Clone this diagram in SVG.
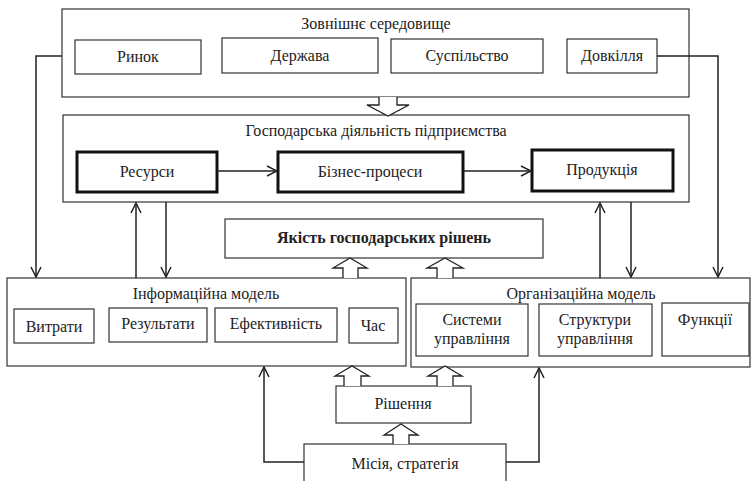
<svg xmlns="http://www.w3.org/2000/svg" width="752" height="481" viewBox="0 0 752 481" font-family="Liberation Serif, Times New Roman, serif">
<defs>
<style>
.box{fill:#fff;stroke:#333;stroke-width:1.2}
.thick{fill:#fff;stroke:#111;stroke-width:3}
.t{font-family:'Liberation Serif','Times New Roman',serif;font-size:16px;fill:#222;text-anchor:middle}
.b{font-weight:bold}
.ln{fill:none;stroke:#222;stroke-width:1.5}
.blk{fill:#fff;stroke:#222;stroke-width:1.3;stroke-linejoin:miter}
</style>
<marker id="ah" viewBox="0 0 12 12" refX="11" refY="6" markerWidth="12" markerHeight="12" markerUnits="userSpaceOnUse" orient="auto">
<path d="M1,1 L11,6 L1,11" fill="none" stroke="#222" stroke-width="1.5"/>
</marker>
</defs>
<rect width="752" height="481" fill="#fff"/>

<g id="env">
<rect class="box" x="62" y="9" width="627" height="88"/>
<text class="t" x="376" y="29">Зовнішнє середовище</text>
</g>
<g id="rynok"><rect class="box" x="75" y="40" width="126" height="34"/><text class="t" x="138" y="62">Ринок</text></g>
<g id="derzhava"><rect class="box" x="222" y="38" width="156" height="35"/><text class="t" x="300" y="61">Держава</text></g>
<g id="suspilstvo"><rect class="box" x="391" y="39" width="152" height="34"/><text class="t" x="467" y="61">Суспільство</text></g>
<g id="dovkillia"><rect class="box" x="567" y="39" width="90" height="34"/><text class="t" x="612" y="61">Довкілля</text></g>

<g id="activity">
<rect class="box" x="63" y="115" width="626" height="87"/>
<text class="t" x="376" y="136">Господарська діяльність підприємства</text>
</g>
<g id="resursy"><rect class="thick" x="77" y="152" width="140" height="40"/><text class="t" x="147" y="177">Ресурси</text></g>
<g id="biznes"><rect class="thick" x="278" y="152" width="185" height="40"/><text class="t" x="370" y="177">Бізнес-процеси</text></g>
<g id="produktsiia"><rect class="thick" x="532" y="150" width="141" height="41"/><text class="t" x="602" y="175">Продукція</text></g>

<g id="yakist"><rect class="box" x="225" y="219" width="318" height="39"/><text class="t b" x="384" y="243">Якість господарських рішень</text></g>

<g id="info">
<rect class="box" x="7" y="278" width="399" height="88"/>
<text class="t" x="206" y="299">Інформаційна модель</text>
</g>
<g id="vytraty"><rect class="box" x="14" y="309" width="80" height="34"/><text class="t" x="54" y="332">Витрати</text></g>
<g id="rezultaty"><rect class="box" x="109" y="308" width="98" height="34"/><text class="t" x="158" y="329">Результати</text></g>
<g id="efektyvnist"><rect class="box" x="215" y="308" width="122" height="34"/><text class="t" x="276" y="329">Ефективність</text></g>
<g id="chas"><rect class="box" x="349" y="308" width="49" height="35"/><text class="t" x="373" y="331">Час</text></g>

<g id="org">
<rect class="box" x="411" y="278" width="339" height="89"/>
<text class="t" x="581" y="299">Організаційна модель</text>
</g>
<g id="systemy"><rect class="box" x="416" y="304" width="112" height="52"/><text class="t" x="472" y="325">Системи</text><text class="t" x="472" y="344">управління</text></g>
<g id="struktury"><rect class="box" x="539" y="304" width="113" height="52"/><text class="t" x="595" y="325">Структури</text><text class="t" x="595" y="344">управління</text></g>
<g id="funktsii"><rect class="box" x="662" y="303" width="87" height="53"/><text class="t" x="705" y="325">Функції</text></g>

<g id="rishennia"><rect class="box" x="336" y="386" width="135" height="37"/><text class="t" x="403" y="409">Рішення</text></g>
<g id="misiia"><rect class="box" x="304" y="444" width="202" height="45"/><text class="t" x="405" y="469">Місія, стратегія</text></g>

<g id="connectors">
<path class="ln" d="M62,56 H36 V277" marker-end="url(#ah)"/>
<path class="ln" d="M657,56 H718 V277" marker-end="url(#ah)"/>
<path class="ln" d="M136,278 V203" marker-end="url(#ah)"/>
<path class="ln" d="M166,202 V277" marker-end="url(#ah)"/>
<path class="ln" d="M600,278 V203" marker-end="url(#ah)"/>
<path class="ln" d="M631,202 V277" marker-end="url(#ah)"/>
<path class="ln" d="M217,171 H277" stroke-width="2.5" marker-end="url(#ah)"/>
<path class="ln" d="M463,171 H531" stroke-width="2.5" marker-end="url(#ah)"/>
<path class="ln" d="M304,462 H264 V367" marker-end="url(#ah)"/>
<path class="ln" d="M506,462 H539 V368" marker-end="url(#ah)"/>
<path class="blk" d="M379,97 V105 H367 L388,116 L409,105 H397 V97"/>
<path class="blk" d="M343,278 V268 H333 L350,258 L367,268 H358 V278"/>
<path class="blk" d="M437,278 V268 H427 L445,258 L463,268 H453 V278"/>
<path class="blk" d="M344,386 V376 H335 L352,366 L369,376 H361 V386"/>
<path class="blk" d="M437,386 V376 H428 L445,366 L462,376 H453 V386"/>
<path class="blk" d="M393,444 V435 H384 L401,424 L418,435 H409 V444"/>
</g>
</svg>
